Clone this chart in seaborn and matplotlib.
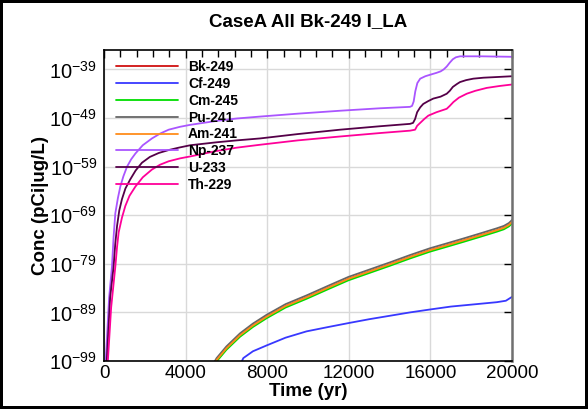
import numpy as np
import pandas as pd
import matplotlib
matplotlib.use("Agg")
import matplotlib.pyplot as plt
import matplotlib.ticker as mticker
import seaborn as sns

# values: time (yr) and log10 of concentration
t_low = [5300, 5520, 6000, 6670, 7300, 7970, 8900, 9930, 11000, 11980, 13000,
         14020, 15000, 15980, 16800, 17610, 18400, 19250, 19600, 19850, 20000]
e_pu = [-100, -98.4, -96.0, -93.3, -91.3, -89.5, -87.3, -85.5, -83.5, -81.7, -80.2,
        -78.7, -77.2, -75.8, -74.8, -73.8, -72.8, -71.7, -71.2, -70.6, -70.0]
e_am = [-100.4, -98.8, -96.4, -93.7, -91.7, -89.9, -87.7, -85.9, -83.9, -82.1, -80.6,
        -79.1, -77.6, -76.2, -75.2, -74.2, -73.2, -72.1, -71.6, -71.0, -70.4]
e_cm = [-100.7, -99.1, -96.7, -94.0, -92.0, -90.2, -88.0, -86.2, -84.2, -82.4, -80.9,
        -79.4, -77.9, -76.5, -75.5, -74.5, -73.5, -72.4, -71.9, -71.3, -70.7]
e_bk = [-100.4, -98.8, -96.4, -93.7, -91.7, -89.9, -87.7, -85.9, -83.9, -82.1, -80.6,
        -79.1, -77.6, -76.2, -75.2, -74.2, -73.2, -72.1, -71.6, -71.0, -70.4]

t_cf = [6650, 6830, 7300, 7970, 8900, 9930, 11000, 11980, 13000, 14000, 15000,
        15980, 17000, 18000, 19250, 19700, 20000]
e_cf = [-100, -98.4, -97.0, -95.8, -94.2, -92.9, -92.0, -91.2, -90.4, -89.7, -89.0,
        -88.4, -87.8, -87.4, -86.9, -86.6, -85.8]

t_np = [60, 250, 390, 470, 555, 680, 800, 950, 1130, 1330, 1540, 1900, 2350, 2750,
        3170, 3730, 4230, 5500, 6500, 7650, 9500, 11570, 13500, 15000, 15100, 15180,
        15260, 15360, 15500, 15750, 15980, 16300, 16500, 16650, 16800, 16950, 17100,
        17250, 17450, 18500, 20000]
e_np = [-101, -86, -79.6, -73.5, -68.6, -65.5, -63.1, -61.0, -59.0, -57.5, -56.3, -54.6,
        -53.2, -52.2, -51.4, -50.8, -50.4, -49.6, -49.1, -48.7, -48.1, -47.5, -47.0, -46.7,
        -46.5, -45.6, -43.5, -41.8, -40.9, -40.4, -40.1, -39.7, -39.4, -39.0, -38.4, -37.6,
        -36.9, -36.5, -36.3, -36.3, -36.4]

t_u = [110, 300, 470, 550, 640, 750, 880, 1050, 1290, 1550, 1860, 2250, 2680, 3160,
       3660, 4230, 5500, 6500, 7650, 9500, 11570, 13500, 15000, 15150, 15250, 15350,
       15500, 15650, 15900, 16140, 16500, 16800, 16950, 17100, 17300, 17450, 17750,
       18100, 18600, 19080, 20000]
e_u = [-101, -86, -79.6, -75.0, -71.2, -68.0, -65.7, -63.5, -61.6, -59.8, -58.2, -57.0,
       -56.2, -55.6, -55.1, -54.6, -54.0, -53.6, -53.2, -52.3, -51.4, -50.7, -50.2, -50.0,
       -49.2, -47.8, -46.8, -46.1, -45.5, -45.0, -44.6, -44.0, -43.4, -42.6, -42.0, -41.6,
       -41.2, -40.9, -40.7, -40.6, -40.4]

t_th = [160, 350, 555, 640, 720, 880, 1045, 1250, 1540, 1900, 2350, 2750, 3170, 3730,
        4230, 5500, 6500, 7650, 9500, 11570, 13500, 15000, 15250, 15350, 15500, 15700,
        15900, 16300, 16800, 16950, 17130, 17400, 17780, 18200, 18760, 19400, 20000]
e_th = [-101, -88, -79.6, -75.5, -72.5, -69.5, -67.1, -65.0, -63.1, -61.2, -59.6, -58.6,
        -57.9, -57.3, -56.9, -55.8, -55.1, -54.5, -53.6, -52.8, -52.1, -51.6, -51.4, -50.6,
        -50.0, -49.2, -48.5, -47.8, -47.1, -46.5, -45.7, -44.8, -44.0, -43.4, -42.8, -42.4,
        -42.1]

nuclides = ["Bk-249", "Cf-249", "Cm-245", "Pu-241", "Am-241", "Np-237", "U-233", "Th-229"]
colors = ["#d01010", "#3838ff", "#00dd00", "#666666", "#ff8c1a", "#aa55ff", "#550048", "#ff0099"]
series = [(t_low, e_bk), (t_cf, e_cf), (t_low, e_cm), (t_low, e_pu),
          (t_low, e_am), (t_np, e_np), (t_u, e_u), (t_th, e_th)]

sns.set_style("white")
plt.rcParams["font.family"] = ["Liberation Sans", "DejaVu Sans"]
plt.rcParams["mathtext.fontset"] = "custom"
plt.rcParams["mathtext.rm"] = "Liberation Sans"
plt.rcParams["mathtext.it"] = "Liberation Sans:italic"
plt.rcParams["mathtext.bf"] = "Liberation Sans:bold"
for k in ["text.color", "axes.labelcolor", "xtick.color", "ytick.color"]:
    plt.rcParams[k] = "black"

fig = plt.figure(figsize=(5.88, 4.09), dpi=100)
fig.patch.set_edgecolor("black")
fig.patch.set_linewidth(3)
ax = fig.add_axes([104 / 588, 1 - 361 / 409, 408 / 588, 311 / 409])

for name, col, (t, e) in zip(nuclides, colors, series):
    df = pd.DataFrame({"Time": t, "Conc": 10.0 ** np.array(e)})
    sns.lineplot(data=df, x="Time", y="Conc", color=col, lw=1.3, label=name,
                 ax=ax, sort=False, estimator=None)

ax.set_yscale("log")
ax.set_xlim(0, 20000)
ax.set_ylim(1e-99, 1e-35)
ax.yaxis.set_major_locator(mticker.FixedLocator([10.0 ** k for k in range(-99, -38, 10)]))
ax.yaxis.set_minor_locator(mticker.NullLocator())
ax.xaxis.set_major_locator(mticker.MultipleLocator(4000))
ax.xaxis.set_minor_locator(mticker.MultipleLocator(800))
ax.tick_params(axis="both", which="both", direction="in", top=True, right=True)
ax.tick_params(axis="both", which="major", length=6, width=1, color="black")
ax.tick_params(axis="x", which="minor", length=5, width=1)
ax.tick_params(axis="x", labelsize=13.5, pad=3)
ax.tick_params(axis="y", labelsize=14.5, pad=5)
ax.grid(True, which="major", color="#d9d9d9", lw=1)
for s in ["left", "top", "bottom"]:
    ax.spines[s].set_color("black")
    ax.spines[s].set_linewidth(1.2)
ax.spines["right"].set_color("#707070")
ax.spines["right"].set_linewidth(1.8)

ax.set_title("CaseA All Bk-249 I_LA", fontsize=13.5, fontweight="bold", pad=17)
ax.set_xlabel("Time (yr)", fontsize=13.5, fontweight="bold")
ax.set_ylabel("Conc (pCi|ug/L)", fontsize=13.5, fontweight="bold")
ax.xaxis.set_label_coords(0.5, -0.07)
ax.yaxis.set_label_coords(-0.135, 0.5)

ax.legend(loc="upper left", bbox_to_anchor=(0.029, 0.967), frameon=False,
          borderpad=0, borderaxespad=0, handlelength=4.5, handletextpad=0.7,
          labelspacing=0.2, prop={"weight": "bold", "size": 10})

fig.savefig("out.png", dpi=100)
